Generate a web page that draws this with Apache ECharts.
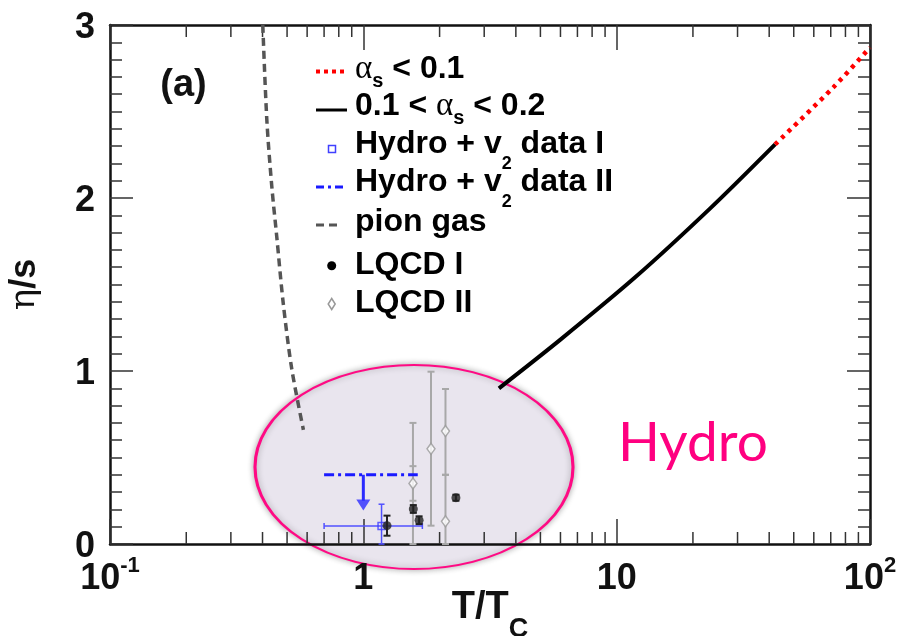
<!DOCTYPE html>
<html>
<head>
<meta charset="utf-8">
<script src="https://cdn.jsdelivr.net/npm/echarts@6/dist/echarts.min.js"></script>
<style>
  html, body { margin: 0; padding: 0; background: #fff; }
  #chart { width: 898px; height: 636px; }
</style>
</head>
<body>
<div id="chart"></div>
<script>
// pion gas
const pionT = [0.401, 0.416, 0.435, 0.455, 0.483, 0.522, 0.58];
const pionEta = [3.0, 2.45, 2.07, 1.78, 1.39, 1.01, 0.66];
// 0.1 < alpha_s < 0.2
const midAlphaT = [3.43, 5.98, 11.8, 23.4, 42.2];
const midAlphaEta = [0.90, 1.18, 1.54, 1.94, 2.31];
// alpha_s < 0.1
const lowAlphaT = [42.2, 71.7, 100];
const lowAlphaEta = [2.31, 2.64, 2.87];
// Hydro + v2 data I
const hydroIT = [1.18];
const hydroIEta = [0.104];
const hydroITLo = [0.70];
const hydroITHi = [1.71];
const hydroIEtaLo = [0];
const hydroIEtaHi = [0.23];
// Hydro + v2 data II (upper limit + arrow)
const hydroIIT = [0.70, 1.64];
const hydroIIEta = [0.40, 0.40];
const hydroIIArrowT = [1.0, 1.0];
const hydroIIArrowEta = [0.40, 0.25];
const hydroIIHeadEta = [0.225];
// LQCD I
const lqcd1T = [1.24, 1.575, 1.66, 2.32];
const lqcd1Eta = [0.106, 0.202, 0.137, 0.268];
const lqcd1Lo = [0.048, 0.18, 0.115, 0.25];
const lqcd1Hi = [0.164, 0.225, 0.16, 0.285];
// LQCD II
const lqcd2T = [1.57, 1.85, 2.11, 2.11];
const lqcd2Eta = [0.35, 0.55, 0.653, 0.131];
const lqcd2Lo = [0, 0.106, 0.40, 0];
const lqcd2Hi = [0.70, 0.996, 0.896, 0.40];
const lqcd2SysLo = [0.25, null, null, null];
const lqcd2SysHi = [0.45, null, null, null];

// ticks
const xTickValues = [0.1, 1, 10, 100];
const xTickLabels = ['10^-1', '1', '10', '10^2'];
const xMinorTicks = [0.2, 0.3, 0.4, 0.5, 0.6, 0.7, 0.8, 0.9, 2, 3, 4, 5, 6, 7, 8, 9, 20, 30, 40, 50, 60, 70, 80, 90];
const yTickLabels = ['0', '1', '2', '3'];

const FONT = 'Liberation Sans';
const zip = (xs, ys) => xs.map((x, i) => [x, ys[i]]);

const axisLine = { show: true, onZero: false, lineStyle: { color: '#111', width: 2.5 } };
const tickStyle = { color: '#333', width: 1.5 };

function xLabel(v) {
    const i = xTickValues.findIndex(t => Math.abs(Math.log10(t) - Math.log10(v)) < 1e-6);
    if (i < 0) return '';
    const parts = xTickLabels[i].split('^');
    return parts.length > 1 ? '{m|' + parts[0] + '}{p|' + parts[1] + '}' : '{m|' + parts[0] + '}';
}

function errorBars(xs, lo, hi, color, width, cap) {
    return {
        type: 'custom', silent: true, clip: false, z: 4,
        data: xs.map((x, i) => [x, lo[i], hi[i]]).filter(d => d[1] != null),
        encode: { x: 0, y: [1, 2] },
        renderItem: (params, api) => {
            const a = api.coord([api.value(0), api.value(1)]);
            const b = api.coord([api.value(0), api.value(2)]);
            const s = { stroke: color, lineWidth: width };
            return { type: 'group', children: [
                { type: 'line', shape: { x1: a[0], y1: a[1], x2: b[0], y2: b[1] }, style: s },
                { type: 'line', shape: { x1: a[0] - cap, y1: a[1], x2: a[0] + cap, y2: a[1] }, style: s },
                { type: 'line', shape: { x1: b[0] - cap, y1: b[1], x2: b[0] + cap, y2: b[1] }, style: s }
            ] };
        }
    };
}

function xErrorBars(ys, lo, hi, color, width, cap) {
    return {
        type: 'custom', silent: true, clip: false, z: 4,
        data: ys.map((y, i) => [lo[i], hi[i], y]),
        encode: { x: [0, 1], y: 2 },
        renderItem: (params, api) => {
            const a = api.coord([api.value(0), api.value(2)]);
            const b = api.coord([api.value(1), api.value(2)]);
            const s = { stroke: color, lineWidth: width };
            return { type: 'group', children: [
                { type: 'line', shape: { x1: a[0], y1: a[1], x2: b[0], y2: b[1] }, style: s },
                { type: 'line', shape: { x1: a[0], y1: a[1] - cap, x2: a[0], y2: a[1] + cap }, style: s },
                { type: 'line', shape: { x1: b[0], y1: b[1] - cap, x2: b[0], y2: b[1] + cap }, style: s }
            ] };
        }
    };
}

// log minor ticks on bottom and top
const minorTickSeries = {
    type: 'custom', silent: true, clip: false, z: 1,
    data: xMinorTicks.map(v => [v, 0]),
    renderItem: (params, api) => {
        const b = api.coord([api.value(0), 0]);
        const t = api.coord([api.value(0), 3]);
        const s = { stroke: '#333', lineWidth: 1.5 };
        return { type: 'group', children: [
            { type: 'line', shape: { x1: b[0], y1: b[1], x2: b[0], y2: b[1] - 12 }, style: s },
            { type: 'line', shape: { x1: t[0], y1: t[1], x2: t[0], y2: t[1] + 12 }, style: s }
        ] };
    }
};

const legendRich = {
    t: { fontSize: 32, fontWeight: 'bold', fontFamily: FONT, lineHeight: 32, verticalAlign: 'top', fill: '#000' },
    g: { fontSize: 33, fontFamily: 'Liberation Serif', lineHeight: 32, verticalAlign: 'top', fill: '#000' },
    sa: { fontSize: 20, fontWeight: 'bold', fontFamily: FONT, lineHeight: 20, verticalAlign: 'top', padding: [18, 0, 0, 0], fill: '#000' },
    sv: { fontSize: 18, fontWeight: 'bold', fontFamily: FONT, lineHeight: 18, verticalAlign: 'top', padding: [27, 0, 0, 0], fill: '#000' }
};
const legendRows = [
    '{g|α}{sa|s}{t| < 0.1}',
    '{t|0.1 < }{g|α}{sa|s}{t| < 0.2}',
    '{t|Hydro + v}{sv|2}{t| data I}',
    '{t|Hydro + v}{sv|2}{t| data II}',
    '{t|pion gas}',
    '{t|LQCD I}',
    '{t|LQCD II}'
];
const legendY = [69, 106, 144, 182, 222, 265, 303];

const graphics = [
    {
        type: 'circle', silent: true, z: -10,
        x: 414, y: 467, scaleX: 159 / 102,
        shape: { cx: 0, cy: 0, r: 102 },
        style: { fill: '#e9e5ee', stroke: '#ff0a84', lineWidth: 2, strokeNoScale: true,
                 shadowBlur: 6, shadowColor: 'rgba(0,0,0,0.3)' }
    },
    {
        type: 'text', x: 618, y: 443, z: 10,
        style: { text: 'Hydro', fontSize: 55, fontFamily: 'Lato', fill: '#ff0080', verticalAlign: 'middle', textVerticalAlign: 'middle' }
    },
    {
        type: 'text', x: 183.5, y: 85.5, z: 10,
        style: { text: '(a)', fontSize: 38, fontWeight: 'bold', fontFamily: FONT, fill: '#111',
                 align: 'center', textAlign: 'center', verticalAlign: 'middle', textVerticalAlign: 'middle' }
    },
    // legend samples
    { type: 'line', z: 10, shape: { x1: 316, y1: 71.5, x2: 347, y2: 71.5 }, style: { stroke: '#ff0000', lineWidth: 4, lineDash: [4, 4] } },
    { type: 'line', z: 10, shape: { x1: 316, y1: 110, x2: 347, y2: 110 }, style: { stroke: '#000', lineWidth: 3 } },
    { type: 'rect', z: 10, shape: { x: 328.5, y: 145.5, width: 7, height: 7 }, style: { fill: 'none', stroke: '#4040ff', lineWidth: 1.5 } },
    { type: 'line', z: 10, shape: { x1: 316, y1: 187, x2: 347, y2: 187 }, style: { stroke: '#1a1aff', lineWidth: 3, lineDash: [8, 4, 3, 4] } },
    { type: 'line', z: 10, shape: { x1: 316, y1: 225, x2: 342, y2: 225 }, style: { stroke: '#555', lineWidth: 3, lineDash: [8, 5] } },
    { type: 'circle', z: 10, shape: { cx: 331.7, cy: 265.7, r: 4.5 }, style: { fill: '#000' } },
    { type: 'polygon', z: 10, shape: { points: [[331.7, 298.5], [335.2, 304], [331.7, 309.5], [328.2, 304]] }, style: { fill: '#fff', stroke: '#999', lineWidth: 1.5 } }
].concat(legendRows.map((txt, i) => ({
    type: 'text', x: 355, y: legendY[i] - 16, z: 10,
    style: { text: txt, rich: legendRich, verticalAlign: 'top', textVerticalAlign: 'top' }
})));

const chart = echarts.init(document.getElementById('chart'), null, { renderer: 'canvas' });

const xAxisBase = {
    type: 'log', logBase: 10, min: 0.1, max: 100,
    axisLine: axisLine,
    axisTick: { show: true, inside: true, length: 25, lineStyle: tickStyle },
    splitLine: { show: false }
};
const yAxisBase = {
    type: 'value', min: 0, max: 3, interval: 1,
    axisLine: axisLine,
    axisTick: { show: true, inside: true, length: 23, lineStyle: tickStyle },
    minorTick: { show: true, splitNumber: 10, length: 12, lineStyle: tickStyle },
    splitLine: { show: false }
};

chart.setOption({
    animation: false,
    backgroundColor: '#fff',
    grid: { left: 110, right: 28, top: 25, bottom: 92, containLabel: false, outerBoundsMode: 'none' },
    xAxis: [
        Object.assign({}, xAxisBase, {
            position: 'bottom',
            axisLabel: {
                margin: 11, showMinLabel: true, showMaxLabel: true, formatter: xLabel,
                rich: {
                    m: { fontSize: 36, fontWeight: 'bold', fontFamily: FONT, color: '#111', lineHeight: 36, verticalAlign: 'top', padding: [6, 0, 0, 0] },
                    p: { fontSize: 22, fontWeight: 'bold', fontFamily: FONT, color: '#111', lineHeight: 22, verticalAlign: 'top' }
                }
            },
            name: '{a|T/T}{c|C}', nameLocation: 'middle', nameGap: 45, nameMoveOverlap: false,
            nameTextStyle: {
                rich: {
                    a: { fontSize: 38, fontWeight: 'bold', fontFamily: FONT, color: '#111', lineHeight: 38, verticalAlign: 'top' },
                    c: { fontSize: 27, fontWeight: 'bold', fontFamily: FONT, color: '#111', lineHeight: 27, verticalAlign: 'top', padding: [27, 0, 0, 0] }
                }
            }
        }),
        Object.assign({}, xAxisBase, { position: 'top', axisLabel: { show: false } })
    ],
    yAxis: [
        Object.assign({}, yAxisBase, {
            position: 'left',
            axisLabel: {
                margin: 15, fontSize: 36, fontWeight: 'bold', fontFamily: FONT, color: '#111',
                formatter: v => '{v|' + yTickLabels[Math.round(v)] + '}',
                rich: { v: { fontSize: 36, fontWeight: 'bold', fontFamily: FONT, color: '#111', lineHeight: 36, padding: [6, 0, 0, 0] } }
            },
            name: '{g|η}{b|/s}', nameLocation: 'middle', nameGap: 67, nameRotate: 90, nameMoveOverlap: false,
            nameTextStyle: {
                rich: {
                    g: { fontSize: 36, fontFamily: 'DejaVu Serif', color: '#111', lineHeight: 36 },
                    b: { fontSize: 36, fontWeight: 'bold', fontFamily: FONT, color: '#111', lineHeight: 36 }
                }
            }
        }),
        Object.assign({}, yAxisBase, { position: 'right', axisLabel: { show: false } })
    ],
    graphic: graphics,
    series: [
        minorTickSeries,
        {
            name: 'pion gas', type: 'line', symbol: 'none', smooth: 0.3, z: 3,
            data: zip(pionT, pionEta),
            lineStyle: { color: '#555', width: 3.5, type: [8, 5] }
        },
        {
            name: '0.1 < αs < 0.2', type: 'line', symbol: 'none', smooth: 0.3, z: 3,
            data: zip(midAlphaT, midAlphaEta),
            lineStyle: { color: '#000', width: 4 }
        },
        {
            name: 'αs < 0.1', type: 'line', symbol: 'none', smooth: 0.3, z: 3,
            data: zip(lowAlphaT, lowAlphaEta),
            lineStyle: { color: '#ff0000', width: 4.5, type: [4, 5] }
        },
        errorBars(lqcd2T, lqcd2Lo, lqcd2Hi, '#a8a8a8', 2, 3.5),
        errorBars(lqcd2T, lqcd2SysLo, lqcd2SysHi, '#a8a8a8', 2, 3.5),
        {
            name: 'LQCD II', type: 'scatter', symbol: 'diamond', symbolSize: [8, 11], z: 5,
            data: zip(lqcd2T, lqcd2Eta),
            itemStyle: { color: '#fff', borderColor: '#999', borderWidth: 1.5 }
        },
        xErrorBars(hydroIEta, hydroITLo, hydroITHi, '#5050ff', 1.5, 3),
        errorBars(hydroIT, hydroIEtaLo, hydroIEtaHi, '#5050ff', 1.5, 3),
        {
            name: 'Hydro + v2 data I', type: 'scatter', symbol: 'rect', symbolSize: 7, z: 5,
            data: zip(hydroIT, hydroIEta),
            itemStyle: { color: 'rgba(0,0,0,0)', borderColor: '#3b3bff', borderWidth: 1.5 }
        },
        {
            name: 'Hydro + v2 data II', type: 'line', symbol: 'none', z: 5,
            data: zip(hydroIIT, hydroIIEta),
            lineStyle: { color: '#1a1aff', width: 3, type: [10, 4, 3, 4] }
        },
        {
            type: 'line', symbol: 'none', z: 5,
            data: zip(hydroIIArrowT, hydroIIArrowEta),
            lineStyle: { color: '#2a2aff', width: 3 }
        },
        {
            type: 'scatter', symbol: 'triangle', symbolRotate: 180, symbolSize: [14, 11], z: 5,
            data: zip([hydroIIArrowT[1]], hydroIIHeadEta),
            itemStyle: { color: '#2a2aff' }
        },
        errorBars(lqcd1T, lqcd1Lo, lqcd1Hi, '#222', 2, 3.5),
        {
            name: 'LQCD I', type: 'scatter', symbol: 'circle', symbolSize: 9, z: 6,
            data: zip(lqcd1T, lqcd1Eta),
            itemStyle: { color: '#222' }
        }
    ]
});
</script>
</body>
</html>
